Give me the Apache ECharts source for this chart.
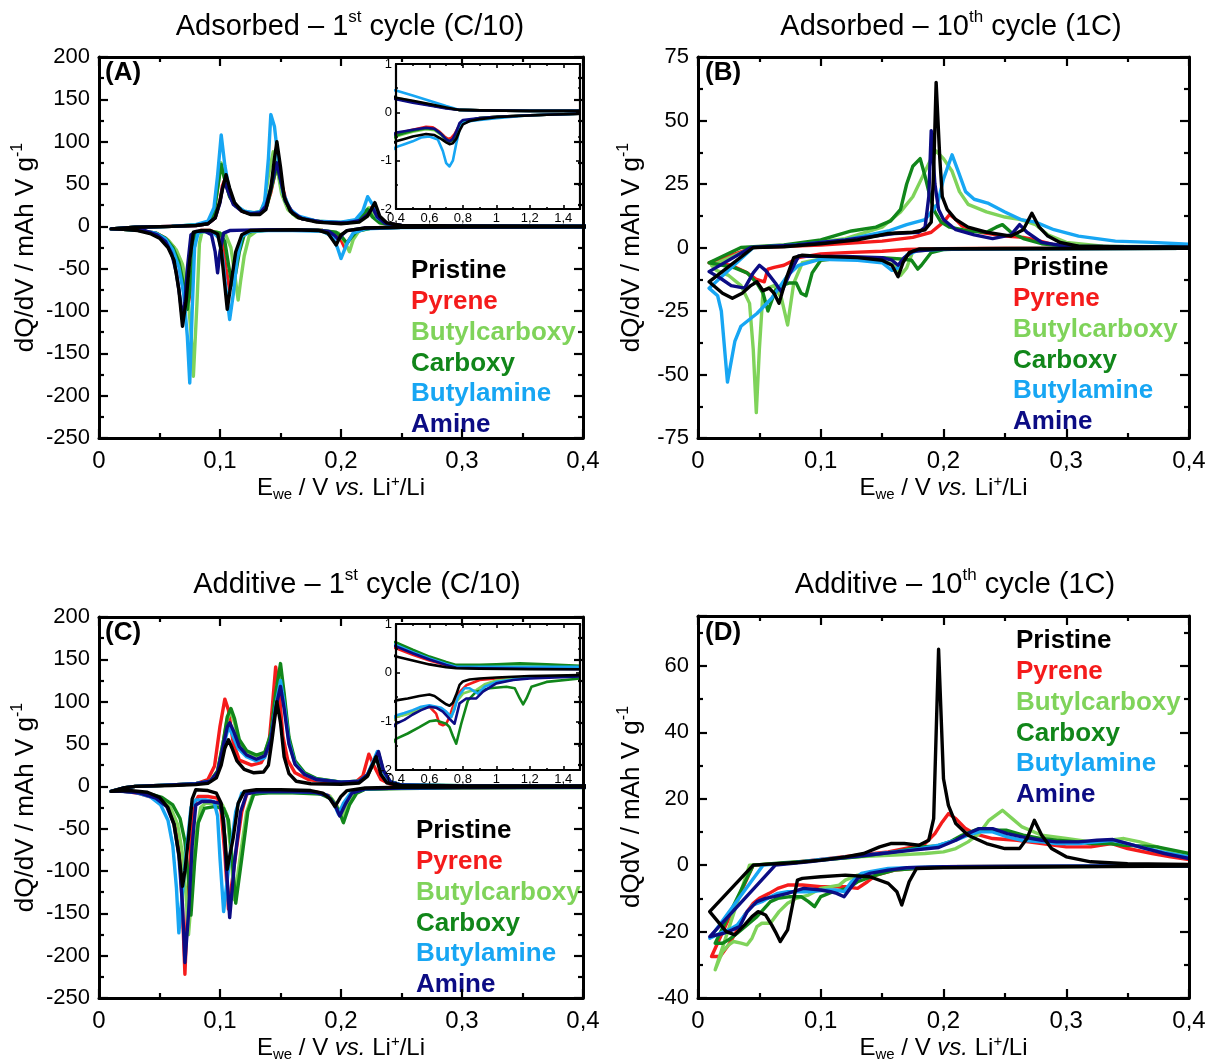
<!DOCTYPE html>
<html>
<head>
<meta charset="utf-8">
<title>dQ/dV curves</title>
<script src="https://cdn.jsdelivr.net/npm/echarts@6/dist/echarts.min.js"></script>
<style>
  html, body { margin: 0; padding: 0; background: #fff; }
  #chart { width: 1207px; height: 1059px; }
</style>
</head>
<body>
<div id="chart"></div>
<script>
// ---- sample names and colours ----
const seriesNames = ['Pristine', 'Pyrene', 'Butylcarboxy', 'Carboxy', 'Butylamine', 'Amine'];
const seriesColors = ['#000000', '#f51b1b', '#7fd35a', '#11861a', '#17a6f3', '#0c0c84'];

// ---- axis tick settings ----
const mainXTicks = { min: 0, max: 0.4, interval: 0.1 };
const insetXTicks = { min: 0.4, max: 1.5, interval: 0.2 };
const insetYTicks = { min: -2, max: 1, interval: 1 };
const yTicksA = { min: -250, max: 200, interval: 50 };
const yTicksB = { min: -75, max: 75, interval: 25 };
const yTicksC = { min: -250, max: 200, interval: 50 };
const yTicksD = { min: -40, max: 75, interval: 20 };

// ---- (A) adsorbed, 1st cycle: [E (V), dQ/dV], discharge from 1.5 V down, then charge back up ----
const adsFirstPristine = [[1.5,-0.03],[1.3,-0.05],[1.1,-0.08],[1.0,-0.1],[0.9,-0.14],[0.84,-0.18],[0.8,-0.25],[0.78,-0.38],[0.76,-0.55],[0.74,-0.64],[0.72,-0.66],[0.7,-0.62],[0.67,-0.55],[0.63,-0.47],[0.58,-0.45],[0.5,-0.5],[0.45,-0.55],[0.4,-0.6],[0.3,-0.8],[0.25,-1],[0.22,-2],[0.205,-5],[0.2,-10],[0.196,-22],[0.193,-16],[0.189,-8],[0.182,-5],[0.16,-4],[0.14,-4.5],[0.125,-5],[0.118,-10],[0.113,-30],[0.109,-68],[0.106,-98],[0.104,-70],[0.101,-28],[0.098,-9],[0.092,-5],[0.084,-5],[0.078,-7],[0.075,-40],[0.072,-88],[0.069,-118],[0.066,-75],[0.062,-40],[0.057,-25],[0.05,-14],[0.043,-9],[0.032,-5],[0.02,-3.5],[0.01,-3],
  [0.03,-1],[0.06,0],[0.08,1],[0.09,3],[0.096,10],[0.1,30],[0.103,50],[0.105,61],[0.108,45],[0.112,28],[0.118,18],[0.125,14],[0.133,14],[0.138,20],[0.142,45],[0.145,80],[0.147,100],[0.15,70],[0.153,35],[0.158,18],[0.165,10],[0.18,5],[0.2,3],[0.215,5],[0.222,12],[0.228,28],[0.232,12],[0.238,4],[0.25,1],[0.3,0.5],[0.4,0.3],[0.5,0.24],[0.6,0.17],[0.7,0.1],[0.78,0.05],[0.9,0.04],[1.2,0.03],[1.5,0.03]];
const adsFirstPyrene = [[1.5,-0.03],[1.2,-0.06],[1.0,-0.09],[0.9,-0.12],[0.8,-0.2],[0.77,-0.32],[0.75,-0.45],[0.73,-0.53],[0.71,-0.55],[0.69,-0.5],[0.66,-0.4],[0.62,-0.31],[0.58,-0.3],[0.5,-0.36],[0.45,-0.4],[0.4,-0.45],[0.3,-0.7],[0.25,-1],[0.22,-2],[0.212,-6],[0.207,-15],[0.203,-25],[0.2,-16],[0.195,-8],[0.185,-5],[0.16,-4],[0.14,-4.5],[0.125,-5.5],[0.12,-9],[0.116,-25],[0.112,-55],[0.108,-75],[0.105,-50],[0.102,-20],[0.098,-8],[0.092,-5],[0.084,-5],[0.08,-8],[0.078,-35],[0.076,-70],[0.074,-90],[0.071,-65],[0.067,-40],[0.062,-25],[0.055,-14],[0.047,-8],[0.035,-5],[0.02,-3.5],[0.01,-3],
  [0.03,-1],[0.06,0],[0.08,1],[0.09,3],[0.096,10],[0.1,30],[0.102,48],[0.104,55],[0.107,42],[0.111,27],[0.118,18],[0.125,15],[0.133,16],[0.138,22],[0.142,40],[0.145,60],[0.148,70],[0.151,50],[0.155,28],[0.16,16],[0.168,9],[0.185,5],[0.205,4],[0.215,7],[0.221,15],[0.225,22],[0.229,12],[0.235,4],[0.25,1],[0.3,0.4],[0.4,0.28],[0.5,0.22],[0.6,0.15],[0.7,0.09],[0.78,0.05],[0.9,0.04],[1.2,0.03],[1.5,0.03]];
const adsFirstButylcarboxy = [[1.5,-0.03],[1.2,-0.06],[1.0,-0.09],[0.9,-0.12],[0.8,-0.2],[0.78,-0.3],[0.76,-0.48],[0.74,-0.58],[0.72,-0.6],[0.7,-0.57],[0.67,-0.47],[0.63,-0.37],[0.58,-0.35],[0.5,-0.4],[0.45,-0.45],[0.4,-0.5],[0.3,-0.8],[0.25,-1],[0.225,-2],[0.215,-5],[0.21,-16],[0.207,-30],[0.203,-18],[0.198,-8],[0.185,-5],[0.16,-4],[0.14,-4.5],[0.13,-6],[0.124,-12],[0.12,-35],[0.117,-65],[0.115,-87],[0.112,-55],[0.109,-25],[0.105,-11],[0.098,-7],[0.09,-6],[0.085,-7],[0.083,-20],[0.081,-90],[0.078,-177],[0.076,-125],[0.073,-75],[0.069,-45],[0.064,-28],[0.057,-16],[0.048,-9],[0.035,-5],[0.02,-3.5],[0.01,-3],
  [0.03,-1],[0.06,0],[0.08,1.5],[0.09,4],[0.095,15],[0.098,45],[0.101,75],[0.104,55],[0.108,35],[0.113,24],[0.12,18],[0.127,16],[0.133,17],[0.137,28],[0.14,60],[0.144,88],[0.147,70],[0.151,38],[0.156,20],[0.163,11],[0.18,6],[0.2,4.5],[0.212,7],[0.218,15],[0.223,22],[0.227,12],[0.233,4],[0.245,1],[0.3,0.4],[0.4,0.3],[0.5,0.23],[0.6,0.16],[0.7,0.1],[0.78,0.05],[0.9,0.04],[1.2,0.03],[1.5,0.03]];
const adsFirstCarboxy = [[1.5,-0.03],[1.2,-0.06],[1.0,-0.09],[0.9,-0.12],[0.8,-0.2],[0.78,-0.3],[0.76,-0.48],[0.74,-0.58],[0.72,-0.6],[0.7,-0.56],[0.67,-0.45],[0.63,-0.35],[0.58,-0.33],[0.5,-0.38],[0.45,-0.43],[0.4,-0.48],[0.3,-0.75],[0.25,-1],[0.225,-2],[0.213,-6],[0.208,-14],[0.205,-20],[0.201,-13],[0.196,-7],[0.185,-5],[0.16,-4],[0.14,-4.5],[0.127,-5.5],[0.12,-10],[0.116,-30],[0.113,-55],[0.11,-69],[0.107,-45],[0.104,-18],[0.1,-8],[0.093,-6],[0.085,-6],[0.08,-9],[0.078,-35],[0.075,-75],[0.073,-98],[0.07,-70],[0.066,-42],[0.061,-25],[0.055,-14],[0.047,-8],[0.035,-5],[0.02,-3.5],[0.01,-3],
  [0.03,-1],[0.06,0],[0.08,1.5],[0.09,4],[0.095,15],[0.098,45],[0.101,73],[0.104,55],[0.108,35],[0.113,24],[0.12,17],[0.127,15],[0.134,16],[0.139,25],[0.143,48],[0.147,72],[0.15,55],[0.154,30],[0.16,15],[0.168,9],[0.185,5],[0.2,4],[0.212,7],[0.218,14],[0.222,20],[0.226,11],[0.232,4],[0.245,1],[0.3,0.4],[0.4,0.28],[0.5,0.22],[0.6,0.15],[0.7,0.09],[0.78,0.05],[0.9,0.04],[1.2,0.03],[1.5,0.03]];
const adsFirstButylamine = [[1.5,-0.03],[1.2,-0.06],[1.0,-0.12],[0.9,-0.16],[0.85,-0.18],[0.8,-0.22],[0.78,-0.35],[0.76,-0.65],[0.74,-1.0],[0.72,-1.12],[0.7,-1.05],[0.68,-0.8],[0.65,-0.56],[0.6,-0.5],[0.55,-0.52],[0.5,-0.6],[0.45,-0.66],[0.4,-0.72],[0.3,-1],[0.25,-1.5],[0.22,-3],[0.21,-8],[0.205,-20],[0.2,-38],[0.197,-25],[0.193,-12],[0.185,-6],[0.16,-5],[0.14,-5],[0.125,-6],[0.118,-12],[0.114,-40],[0.111,-80],[0.108,-110],[0.105,-75],[0.102,-35],[0.099,-14],[0.095,-8],[0.088,-6],[0.082,-7],[0.079,-25],[0.077,-100],[0.075,-185],[0.073,-130],[0.07,-80],[0.066,-48],[0.061,-28],[0.055,-15],[0.047,-8],[0.035,-5],[0.02,-3.5],[0.01,-3],
  [0.03,-1],[0.06,0],[0.08,2],[0.09,6],[0.095,22],[0.098,60],[0.101,108],[0.104,72],[0.108,40],[0.113,25],[0.12,18],[0.128,16],[0.134,18],[0.137,30],[0.14,80],[0.142,132],[0.145,118],[0.148,80],[0.152,40],[0.158,20],[0.165,12],[0.18,6],[0.2,5],[0.212,8],[0.218,18],[0.222,35],[0.226,26],[0.23,10],[0.238,3],[0.25,1],[0.3,0.5],[0.4,0.45],[0.5,0.35],[0.6,0.24],[0.7,0.13],[0.78,0.05],[0.9,0.04],[1.2,0.03],[1.5,0.03]];
const adsFirstAmine = [[1.5,-0.03],[1.2,-0.06],[1.0,-0.09],[0.9,-0.12],[0.8,-0.16],[0.78,-0.22],[0.76,-0.4],[0.74,-0.55],[0.72,-0.6],[0.7,-0.56],[0.67,-0.45],[0.63,-0.34],[0.58,-0.32],[0.5,-0.36],[0.45,-0.39],[0.4,-0.42],[0.3,-0.7],[0.25,-1],[0.22,-2],[0.205,-5],[0.201,-10],[0.198,-16],[0.195,-11],[0.19,-6],[0.18,-4.5],[0.16,-4],[0.14,-4],[0.12,-4.5],[0.108,-5],[0.103,-8],[0.1,-30],[0.098,-55],[0.096,-30],[0.093,-10],[0.088,-6],[0.08,-6],[0.076,-10],[0.073,-50],[0.071,-90],[0.069,-110],[0.067,-85],[0.064,-55],[0.06,-32],[0.055,-18],[0.048,-10],[0.038,-5],[0.025,-3.5],[0.01,-3],
  [0.03,-1],[0.06,0],[0.08,1],[0.09,3],[0.096,10],[0.1,28],[0.102,45],[0.104,52],[0.107,40],[0.111,26],[0.118,18],[0.125,15],[0.133,16],[0.138,24],[0.142,45],[0.145,65],[0.147,75],[0.15,55],[0.154,30],[0.16,16],[0.168,9],[0.185,5],[0.205,4],[0.216,7],[0.222,14],[0.226,22],[0.23,11],[0.236,4],[0.25,1],[0.3,0.4],[0.4,0.27],[0.5,0.2],[0.6,0.14],[0.7,0.08],[0.78,0.05],[0.9,0.04],[1.2,0.03],[1.5,0.03]];

// ---- (B) adsorbed, 10th cycle ----
const adsTenthPristine = [[0.4,-0.3],[0.3,-0.4],[0.22,-0.5],[0.18,-0.6],[0.172,-2],[0.167,-6],[0.163,-11.5],[0.158,-7],[0.15,-5],[0.13,-4],[0.1,-3.5],[0.085,-3],[0.078,-4],[0.072,-12],[0.066,-22],[0.062,-18],[0.058,-16],[0.053,-17],[0.048,-13.5],[0.043,-15],[0.036,-18],[0.028,-20],[0.02,-18],[0.009,-13.5],
  [0.045,0],[0.07,0.3],[0.1,1.5],[0.13,3],[0.155,5.5],[0.175,6],[0.185,7],[0.19,10],[0.192,30],[0.194,65],[0.197,35],[0.199,20],[0.203,15],[0.21,11],[0.22,8],[0.235,6],[0.255,4.5],[0.265,7],[0.272,13.5],[0.278,8],[0.285,4.5],[0.295,2],[0.31,0.5],[0.35,0.2],[0.4,0.1]];
const adsTenthPyrene = [[0.4,-0.2],[0.25,-0.3],[0.2,-0.5],[0.17,-0.8],[0.15,-1.5],[0.12,-2],[0.1,-2.5],[0.082,-4],[0.07,-7],[0.062,-7.8],[0.057,-8.5],[0.054,-13.5],[0.047,-12.4],[0.04,-10],[0.027,-7],[0.009,-6],
  [0.045,0],[0.1,1],[0.15,2.5],[0.175,4],[0.19,6],[0.2,10],[0.205,13],[0.21,11],[0.215,8.5],[0.23,6],[0.25,4.5],[0.265,4],[0.275,3],[0.29,1],[0.31,0.3],[0.4,0.1]];
const adsTenthButylcarboxy = [[0.4,-0.3],[0.2,-0.5],[0.175,-1.5],[0.17,-8],[0.165,-11],[0.16,-7],[0.15,-5],[0.12,-4],[0.1,-4.5],[0.085,-6],[0.078,-14],[0.073,-30.5],[0.068,-20],[0.062,-15],[0.057,-16],[0.053,-17],[0.05,-40],[0.0475,-65],[0.045,-40],[0.042,-22],[0.035,-15],[0.025,-11],[0.015,-9],[0.011,-7],
  [0.045,0],[0.08,1],[0.12,3.5],[0.15,8],[0.165,14],[0.175,20],[0.183,28],[0.19,35],[0.194,38],[0.2,35],[0.207,30],[0.213,22],[0.22,17],[0.235,14],[0.25,12],[0.263,11],[0.275,9],[0.285,5],[0.3,2],[0.33,0.5],[0.4,0.2]];
const adsTenthCarboxy = [[0.4,-0.3],[0.22,-0.5],[0.2,-0.8],[0.19,-2],[0.182,-7],[0.179,-8.5],[0.174,-5],[0.165,-4.5],[0.15,-4],[0.12,-4],[0.1,-5],[0.093,-10],[0.088,-19],[0.084,-18],[0.08,-14],[0.074,-14],[0.068,-15],[0.063,-17],[0.057,-25],[0.053,-18],[0.048,-14],[0.04,-10],[0.03,-8],[0.02,-7],[0.009,-6],
  [0.035,0],[0.07,1],[0.1,3],[0.125,6.5],[0.145,8],[0.157,10.5],[0.165,15],[0.17,25],[0.175,32],[0.181,35],[0.185,28],[0.189,20],[0.193,14],[0.198,10],[0.205,8],[0.22,6.5],[0.235,6],[0.243,8],[0.248,9],[0.255,6],[0.265,3.5],[0.28,1.5],[0.3,0.5],[0.4,0.1]];
const adsTenthButylamine = [[0.4,-0.3],[0.22,-0.5],[0.18,-1],[0.17,-3],[0.163,-8],[0.158,-9],[0.15,-6],[0.13,-5],[0.1,-4.6],[0.082,-7],[0.073,-11],[0.06,-20],[0.048,-26],[0.035,-31],[0.03,-37],[0.024,-53],[0.019,-25],[0.016,-19],[0.009,-16],
  [0.045,0],[0.08,1],[0.12,3],[0.155,6.5],[0.17,9],[0.185,11],[0.195,17],[0.2,27],[0.207,36.5],[0.212,30],[0.218,22],[0.225,19],[0.236,17.5],[0.25,14],[0.263,11],[0.275,10],[0.29,7],[0.31,4.5],[0.34,2.5],[0.37,2],[0.4,1.3]];
const adsTenthAmine = [[0.4,-0.3],[0.2,-0.5],[0.175,-1.5],[0.168,-4],[0.163,-7],[0.158,-5],[0.15,-4],[0.12,-3.5],[0.09,-3.5],[0.082,-3.3],[0.075,-10],[0.068,-17.5],[0.063,-14],[0.055,-9],[0.05,-7],[0.045,-10],[0.038,-16],[0.027,-15],[0.018,-12],[0.009,-9.5],
  [0.043,0],[0.08,1],[0.12,3],[0.16,5.5],[0.18,6],[0.185,8],[0.188,20],[0.19,46],[0.193,25],[0.196,15],[0.2,11],[0.21,7],[0.225,5],[0.24,3.5],[0.255,5],[0.262,9],[0.268,6],[0.28,2],[0.3,0.5],[0.4,0.1]];

// ---- (C) additive, 1st cycle ----
const addFirstPristine = [[1.5,-0.05],[1.2,-0.07],[1.0,-0.1],[0.9,-0.12],[0.84,-0.14],[0.8,-0.18],[0.78,-0.25],[0.76,-0.45],[0.74,-0.62],[0.72,-0.68],[0.7,-0.65],[0.67,-0.58],[0.63,-0.48],[0.6,-0.45],[0.54,-0.48],[0.47,-0.53],[0.4,-0.57],[0.3,-0.8],[0.25,-1],[0.22,-2],[0.205,-5],[0.2,-12],[0.195,-24],[0.191,-15],[0.185,-8],[0.175,-5],[0.15,-4],[0.13,-4],[0.12,-6],[0.115,-20],[0.111,-60],[0.106,-98],[0.104,-60],[0.101,-20],[0.097,-8],[0.09,-5],[0.08,-4],[0.077,-15],[0.074,-60],[0.071,-100],[0.069,-118],[0.066,-80],[0.062,-45],[0.057,-25],[0.05,-13],[0.04,-7],[0.025,-5],[0.01,-6],
  [0.02,-2],[0.03,0],[0.06,1],[0.08,2],[0.09,3.5],[0.097,10],[0.101,25],[0.104,45],[0.107,55],[0.11,45],[0.114,30],[0.12,20],[0.128,16],[0.136,17],[0.14,25],[0.143,55],[0.147,100],[0.15,75],[0.153,35],[0.157,15],[0.163,6],[0.175,3],[0.2,2.5],[0.215,4],[0.222,12],[0.229,35],[0.233,14],[0.238,4],[0.25,1],[0.3,0.5],[0.4,0.33],[0.5,0.25],[0.6,0.17],[0.7,0.11],[0.76,0.09],[0.9,0.08],[1.2,0.07],[1.5,0.07]];
const addFirstPyrene = [[1.5,-0.07],[1.2,-0.1],[1.0,-0.12],[0.9,-0.15],[0.82,-0.26],[0.78,-0.4],[0.76,-0.5],[0.74,-0.7],[0.72,-0.91],[0.7,-1.05],[0.68,-1.08],[0.66,-1.05],[0.64,-0.84],[0.6,-0.7],[0.55,-0.73],[0.5,-0.8],[0.45,-0.86],[0.4,-0.91],[0.3,-1.3],[0.25,-2],[0.22,-3],[0.21,-8],[0.205,-20],[0.2,-35],[0.196,-22],[0.19,-11],[0.18,-7],[0.15,-6],[0.13,-6.5],[0.122,-9],[0.118,-30],[0.113,-80],[0.107,-145],[0.104,-80],[0.101,-30],[0.098,-14],[0.09,-12],[0.082,-12],[0.079,-20],[0.076,-67],[0.073,-150],[0.071,-222],[0.069,-146],[0.067,-87],[0.064,-47],[0.057,-24],[0.046,-14],[0.032,-8],[0.02,-6],[0.01,-6],
  [0.02,-2],[0.03,0],[0.06,1.5],[0.08,3],[0.09,8],[0.0955,24],[0.1,71],[0.104,103],[0.107,90],[0.111,51],[0.116,31],[0.126,25],[0.134,28],[0.14,43],[0.143,90],[0.146,141],[0.149,110],[0.152,59],[0.156,31],[0.162,16],[0.173,8],[0.184,6],[0.2,4.5],[0.212,5],[0.218,12],[0.223,38],[0.227,25],[0.233,8],[0.24,3],[0.25,1],[0.3,0.6],[0.4,0.5],[0.5,0.37],[0.6,0.25],[0.7,0.15],[0.76,0.12],[0.9,0.11],[1.2,0.1],[1.5,0.09]];
const addFirstButylcarboxy = [[1.5,-0.06],[1.2,-0.09],[1.0,-0.16],[0.93,-0.24],[0.88,-0.36],[0.84,-0.38],[0.8,-0.43],[0.78,-0.52],[0.76,-0.6],[0.74,-0.82],[0.73,-0.91],[0.71,-0.85],[0.68,-0.76],[0.64,-0.72],[0.6,-0.7],[0.55,-0.75],[0.5,-0.82],[0.45,-0.87],[0.4,-0.91],[0.3,-1.3],[0.25,-2],[0.22,-3],[0.212,-8],[0.206,-20],[0.201,-37],[0.197,-24],[0.191,-12],[0.18,-8],[0.15,-7],[0.135,-7.5],[0.127,-10],[0.122,-30],[0.117,-80],[0.112,-134],[0.109,-80],[0.106,-35],[0.102,-22],[0.095,-20],[0.088,-20],[0.084,-25],[0.08,-60],[0.077,-120],[0.074,-175],[0.072,-130],[0.069,-80],[0.065,-45],[0.059,-25],[0.05,-14],[0.038,-8],[0.022,-6],[0.01,-6],
  [0.02,-2],[0.03,0],[0.06,1.5],[0.08,3],[0.092,6],[0.098,18],[0.103,55],[0.106,80],[0.109,88],[0.112,75],[0.116,52],[0.122,40],[0.13,36],[0.137,40],[0.142,60],[0.146,105],[0.15,135],[0.153,105],[0.157,55],[0.162,28],[0.17,15],[0.18,9],[0.2,5],[0.215,6],[0.222,14],[0.23,40],[0.234,20],[0.24,6],[0.25,1.5],[0.3,0.7],[0.4,0.61],[0.5,0.45],[0.6,0.3],[0.7,0.2],[0.76,0.14],[0.9,0.13],[1.2,0.13],[1.5,0.12]];
const addFirstCarboxy = [[1.5,-0.12],[1.3,-0.19],[1.21,-0.29],[1.18,-0.53],[1.16,-0.65],[1.14,-0.53],[1.11,-0.32],[1.06,-0.29],[0.96,-0.32],[0.88,-0.39],[0.83,-0.57],[0.79,-1.05],[0.76,-1.46],[0.74,-1.3],[0.72,-1.12],[0.7,-1.05],[0.64,-0.98],[0.6,-1.0],[0.54,-1.12],[0.47,-1.25],[0.4,-1.36],[0.3,-1.8],[0.25,-2.5],[0.22,-3.5],[0.213,-8],[0.207,-22],[0.202,-43],[0.198,-28],[0.192,-15],[0.183,-9],[0.16,-7.5],[0.14,-7.5],[0.128,-9],[0.123,-30],[0.118,-85],[0.113,-138],[0.11,-85],[0.107,-40],[0.103,-26],[0.095,-24],[0.087,-26],[0.082,-43],[0.079,-90],[0.076,-152],[0.074,-110],[0.071,-65],[0.067,-38],[0.061,-22],[0.052,-13],[0.04,-8],[0.025,-6],[0.01,-6],
  [0.02,-2],[0.03,0],[0.06,1.5],[0.08,3],[0.092,6],[0.098,18],[0.103,55],[0.106,82],[0.109,92],[0.112,80],[0.116,55],[0.122,42],[0.13,37],[0.137,40],[0.142,62],[0.146,110],[0.15,145],[0.153,110],[0.157,58],[0.162,30],[0.17,16],[0.18,9],[0.2,5],[0.215,6],[0.222,13],[0.231,39],[0.235,18],[0.241,5],[0.25,1.5],[0.3,0.7],[0.4,0.62],[0.5,0.47],[0.6,0.33],[0.7,0.22],[0.76,0.16],[0.9,0.16],[1.0,0.17],[1.14,0.19],[1.3,0.17],[1.5,0.14]];
const addFirstButylamine = [[1.5,-0.06],[1.2,-0.1],[1.0,-0.19],[0.93,-0.29],[0.89,-0.43],[0.87,-0.39],[0.84,-0.32],[0.81,-0.32],[0.77,-0.5],[0.75,-0.75],[0.73,-0.91],[0.7,-0.8],[0.67,-0.72],[0.6,-0.67],[0.55,-0.7],[0.5,-0.77],[0.45,-0.83],[0.4,-0.88],[0.3,-1.2],[0.25,-2],[0.22,-3],[0.208,-8],[0.202,-20],[0.198,-33],[0.194,-20],[0.188,-10],[0.178,-7],[0.15,-6],[0.13,-6.5],[0.118,-8],[0.113,-30],[0.108,-85],[0.103,-148],[0.1,-85],[0.098,-35],[0.095,-18],[0.088,-16],[0.08,-16],[0.076,-25],[0.072,-80],[0.068,-140],[0.066,-173],[0.064,-120],[0.061,-70],[0.057,-40],[0.051,-22],[0.042,-12],[0.03,-7],[0.018,-6],[0.01,-6],
  [0.02,-2],[0.03,0],[0.06,1.5],[0.08,3],[0.092,6],[0.098,16],[0.103,48],[0.107,70],[0.11,62],[0.115,45],[0.122,35],[0.13,30],[0.137,34],[0.142,55],[0.146,95],[0.15,125],[0.153,98],[0.157,52],[0.162,27],[0.17,14],[0.18,8],[0.2,5],[0.215,6],[0.222,14],[0.23,41],[0.234,20],[0.24,6],[0.25,1.5],[0.3,0.65],[0.4,0.57],[0.5,0.42],[0.6,0.29],[0.7,0.18],[0.76,0.12],[0.9,0.12],[1.2,0.12],[1.5,0.12]];
const addFirstAmine = [[1.5,-0.08],[1.2,-0.12],[1.1,-0.15],[1.0,-0.22],[0.92,-0.39],[0.88,-0.53],[0.82,-0.53],[0.78,-0.63],[0.75,-1.05],[0.72,-0.95],[0.68,-0.8],[0.64,-0.72],[0.6,-0.7],[0.55,-0.77],[0.5,-0.86],[0.45,-0.97],[0.4,-1.05],[0.3,-1.4],[0.25,-2],[0.22,-3],[0.209,-8],[0.204,-20],[0.199,-35],[0.195,-22],[0.189,-11],[0.178,-7],[0.15,-6],[0.13,-6.5],[0.122,-9],[0.117,-30],[0.112,-90],[0.108,-155],[0.105,-90],[0.103,-40],[0.1,-20],[0.093,-18],[0.085,-18],[0.08,-22],[0.077,-70],[0.074,-150],[0.071,-208],[0.069,-140],[0.066,-82],[0.062,-45],[0.056,-24],[0.047,-14],[0.034,-8],[0.02,-6],[0.01,-6],
  [0.02,-2],[0.03,0],[0.06,1.5],[0.08,3],[0.092,6],[0.098,17],[0.103,50],[0.106,70],[0.108,75],[0.111,66],[0.116,47],[0.122,37],[0.13,32],[0.137,36],[0.142,55],[0.146,92],[0.15,118],[0.153,92],[0.157,50],[0.162,26],[0.17,14],[0.18,8],[0.2,5],[0.215,6],[0.222,14],[0.231,41],[0.235,19],[0.241,5],[0.25,1.5],[0.3,0.6],[0.4,0.54],[0.5,0.4],[0.6,0.27],[0.7,0.16],[0.76,0.1],[0.9,0.09],[1.2,0.08],[1.5,0.07]];

// ---- (D) additive, 10th cycle ----
const addTenthPristine = [[0.4,-0.3],[0.3,-0.5],[0.2,-0.8],[0.178,-1],[0.172,-5],[0.166,-12],[0.162,-8],[0.155,-5.5],[0.14,-3.5],[0.12,-3],[0.1,-3.5],[0.085,-4],[0.081,-4.5],[0.077,-12],[0.073,-19.5],[0.067,-23],[0.063,-20],[0.06,-18],[0.055,-15],[0.049,-14],[0.044,-15.5],[0.038,-18],[0.03,-21],[0.023,-20],[0.0095,-14],
  [0.045,0],[0.08,0.8],[0.1,1.5],[0.12,2.5],[0.135,3.5],[0.148,5.5],[0.157,6.5],[0.168,6.5],[0.18,6],[0.188,7.5],[0.192,14],[0.196,65],[0.2,26],[0.204,18],[0.21,12.5],[0.22,9],[0.235,6.5],[0.25,5],[0.262,5],[0.268,8],[0.274,13.5],[0.28,9],[0.288,5],[0.3,2.5],[0.32,1],[0.35,0.4],[0.4,0.2]];
const addTenthPyrene = [[0.4,0],[0.2,-0.5],[0.175,-1],[0.16,-1.5],[0.145,-3],[0.138,-5],[0.13,-7],[0.12,-6.5],[0.1,-6.5],[0.085,-6],[0.073,-6],[0.065,-7],[0.058,-8.5],[0.05,-10],[0.045,-11.5],[0.038,-15],[0.032,-19.5],[0.025,-24],[0.018,-27.5],[0.011,-27.5],
  [0.045,0],[0.07,0.5],[0.1,1.7],[0.13,3],[0.155,4],[0.175,5.5],[0.185,6.5],[0.193,9.5],[0.199,13],[0.204,15.5],[0.21,14],[0.218,11],[0.225,9.5],[0.24,8],[0.26,7.5],[0.28,6.5],[0.3,5.5],[0.32,5.5],[0.337,6.5],[0.35,5],[0.37,3.5],[0.385,2.5],[0.4,1.7]];
const addTenthButylcarboxy = [[0.4,-0.3],[0.2,-0.5],[0.17,-1],[0.15,-1.5],[0.13,-3],[0.12,-4.5],[0.115,-6],[0.1,-7],[0.09,-9],[0.08,-10],[0.073,-11.5],[0.066,-14],[0.059,-17.5],[0.052,-17.5],[0.048,-18.5],[0.044,-22],[0.04,-24],[0.035,-23.5],[0.029,-23],[0.025,-24],[0.02,-26],[0.014,-31.5],
  [0.042,0],[0.07,0.5],[0.1,1.5],[0.13,2.5],[0.16,3],[0.185,3.5],[0.2,4],[0.21,5],[0.22,7],[0.229,9.5],[0.237,13.5],[0.248,16.5],[0.256,14],[0.264,11.5],[0.28,9],[0.3,8],[0.32,7],[0.335,7.5],[0.347,8],[0.36,7],[0.374,5.5],[0.39,3.5],[0.4,2.5]];
const addTenthCarboxy = [[0.4,-0.3],[0.2,-0.5],[0.177,-1],[0.16,-1.5],[0.145,-3],[0.13,-5],[0.122,-7],[0.11,-8],[0.1,-9.5],[0.095,-12.5],[0.09,-11],[0.084,-9.5],[0.075,-9.5],[0.065,-10],[0.059,-11],[0.053,-13.5],[0.048,-15.5],[0.04,-18],[0.032,-20.5],[0.025,-22.5],[0.02,-23.5],[0.014,-23.5],
  [0.045,0],[0.07,0.7],[0.1,1.5],[0.13,2.5],[0.16,4],[0.182,5.5],[0.195,5.8],[0.205,7],[0.215,9],[0.229,11],[0.24,10.5],[0.251,10.5],[0.265,9],[0.28,8],[0.292,7.5],[0.31,7],[0.319,6.5],[0.335,6.5],[0.347,6],[0.36,5.8],[0.374,5.5],[0.39,4.3],[0.4,3.5]];
const addTenthButylamine = [[0.4,-0.2],[0.2,-0.5],[0.17,-0.8],[0.155,-1],[0.14,-2],[0.133,-2.5],[0.125,-5],[0.119,-8],[0.112,-7.5],[0.105,-7.5],[0.09,-8],[0.073,-8],[0.065,-8.5],[0.059,-9.5],[0.052,-11],[0.045,-12],[0.038,-15],[0.032,-18],[0.025,-19.5],[0.021,-20],[0.0096,-22],
  [0.053,0],[0.08,0.8],[0.1,1.7],[0.13,2.8],[0.16,4],[0.182,5],[0.196,6],[0.21,7.5],[0.22,9],[0.229,10],[0.24,10],[0.252,8.5],[0.264,7.5],[0.28,7],[0.292,6.5],[0.31,6.5],[0.325,7],[0.338,7.5],[0.35,6.5],[0.365,5],[0.38,3.8],[0.4,2.5]];
const addTenthAmine = [[0.4,-0.2],[0.2,-0.5],[0.17,-0.8],[0.155,-1.5],[0.14,-2.5],[0.13,-4],[0.124,-7],[0.119,-9.5],[0.113,-8.5],[0.108,-8],[0.1,-7.5],[0.086,-7],[0.073,-8.5],[0.062,-9.5],[0.055,-10],[0.048,-11],[0.04,-14],[0.034,-18.5],[0.028,-19.5],[0.021,-20.5],[0.0096,-21.5],
  [0.063,0],[0.09,1],[0.12,2.3],[0.15,3.5],[0.175,4.5],[0.196,5.3],[0.21,7.5],[0.22,9.5],[0.229,11],[0.24,11],[0.252,9.5],[0.264,8.5],[0.28,7.5],[0.292,7],[0.31,7],[0.325,7.5],[0.338,7.7],[0.35,6.5],[0.365,5],[0.38,3.5],[0.4,2]];

// ---- text ----
const panelTitles = ['Adsorbed – 1{sup|st} cycle (C/10)', 'Adsorbed – 10{sup|th} cycle (1C)', 'Additive – 1{sup|st} cycle (C/10)', 'Additive – 10{sup|th} cycle (1C)'];
const panelLetters = ['(A)', '(B)', '(C)', '(D)'];
const xTitle = 'E{sub|we} / V {it|vs.} Li{sup|+}/Li';
const yTitle = 'dQ/dV / mAh V g{sup|-1}';
const yTitleD = 'dQdV / mAh V g{sup|-1}';

// ---- layout ----
const FONT = "'Liberation Sans', Arial, Helvetica, sans-serif";
const gridRects = [
  { left: 99, top: 57, width: 484, height: 381 },   // A
  { left: 396, top: 64, width: 184, height: 145 },  // A inset
  { left: 698, top: 57, width: 491, height: 381 },  // B
  { left: 99, top: 617, width: 484, height: 381 },  // C
  { left: 396, top: 624, width: 184, height: 146 }, // C inset
  { left: 698, top: 616, width: 491, height: 382 }  // D
];

const decimalComma = v => String(+(+v).toFixed(3)).replace('.', ',');

function nameRich(size) {
  return {
    sub: { fontSize: Math.round(size * 0.62), fontFamily: FONT, color: '#000', verticalAlign: 'bottom', lineHeight: Math.round(size * 0.95) },
    sup: { fontSize: Math.round(size * 0.62), fontFamily: FONT, color: '#000', verticalAlign: 'top', lineHeight: Math.round(size * 0.95) },
    it: { fontSize: size, fontFamily: FONT, color: '#000', fontStyle: 'italic' }
  };
}

const xAxes = [];
const yAxes = [];

function addFrame(gridIndex, xr, yr, s) {
  const line = { show: true, onZero: false, lineStyle: { color: '#000', width: s.lineW } };
  const tick = { show: true, inside: true, length: s.tickLen, lineStyle: { color: '#000', width: s.tickW } };
  const minor = { show: true, splitNumber: 2, length: s.minorLen, lineStyle: { color: '#000', width: s.tickW } };
  const base = { type: 'value', gridIndex, splitLine: { show: false }, axisLine: line, axisTick: tick, minorTick: minor, z: s.z };
  xAxes.push(Object.assign({}, base, {
    position: 'bottom', min: xr.min, max: xr.max, interval: xr.interval,
    axisLabel: { show: true, color: '#000', fontFamily: FONT, fontSize: s.xFont, margin: s.xMargin, formatter: decimalComma, showMaxLabel: s.xShowMax },
    name: s.xName || '', nameLocation: 'middle', nameGap: s.xNameGap,
    nameTextStyle: { fontFamily: FONT, fontSize: 24, color: '#000', lineHeight: 28, rich: nameRich(24) }
  }));
  xAxes.push(Object.assign({}, base, {
    position: 'top', min: xr.min, max: xr.max, interval: xr.interval, axisLabel: { show: false }
  }));
  yAxes.push(Object.assign({}, base, {
    position: 'left', min: yr.min, max: yr.max, interval: yr.interval,
    axisLabel: { show: true, color: '#000', fontFamily: FONT, fontSize: s.yFont, margin: s.yMargin, formatter: decimalComma, showMaxLabel: s.yShowMax },
    name: s.yName || '', nameLocation: 'middle', nameRotate: 90, nameGap: s.yNameGap,
    nameTextStyle: { fontFamily: FONT, fontSize: 26, color: '#000', lineHeight: 32, rich: nameRich(26) }
  }));
  yAxes.push(Object.assign({}, base, {
    position: 'right', min: yr.min, max: yr.max, interval: yr.interval, axisLabel: { show: false }
  }));
}

const mainStyle = { lineW: 3, tickW: 2.2, tickLen: 9, minorLen: 5, xFont: 24, yFont: 22, xMargin: 11, yMargin: 9, z: 5,
  xName: xTitle, xNameGap: 29, yNameGap: 50, xShowMax: true, yShowMax: true };
const insetStyle = { lineW: 2.2, tickW: 1.6, tickLen: 4, minorLen: 2, xFont: 13, yFont: 13, xMargin: 3, yMargin: 4, z: 5,
  xName: '', xNameGap: 0, yNameGap: 0, xShowMax: false, yShowMax: true };

addFrame(0, mainXTicks, yTicksA, Object.assign({}, mainStyle, { yName: yTitle }));
addFrame(1, insetXTicks, insetYTicks, insetStyle);
addFrame(2, mainXTicks, yTicksB, Object.assign({}, mainStyle, { yName: yTitle }));
addFrame(3, mainXTicks, yTicksC, Object.assign({}, mainStyle, { yName: yTitle }));
addFrame(4, insetXTicks, insetYTicks, insetStyle);
addFrame(5, mainXTicks, yTicksD, Object.assign({}, mainStyle, { yName: yTitleD, yShowMax: false }));

// curves per panel, in legend order
const panels = [
  { grid: 0, inset: 1, curves: [adsFirstPristine, adsFirstPyrene, adsFirstButylcarboxy, adsFirstCarboxy, adsFirstButylamine, adsFirstAmine] },
  { grid: 2, curves: [adsTenthPristine, adsTenthPyrene, adsTenthButylcarboxy, adsTenthCarboxy, adsTenthButylamine, adsTenthAmine] },
  { grid: 3, inset: 4, curves: [addFirstPristine, addFirstPyrene, addFirstButylcarboxy, addFirstCarboxy, addFirstButylamine, addFirstAmine] },
  { grid: 5, curves: [addTenthPristine, addTenthPyrene, addTenthButylcarboxy, addTenthCarboxy, addTenthButylamine, addTenthAmine] }
];
// Pristine is drawn last so it sits on top
const drawOrder = [1, 2, 3, 4, 5, 0];

const series = [];
panels.forEach(p => {
  const targets = [{ g: p.grid, w: 3.4 }];
  if (p.inset !== undefined) targets.push({ g: p.inset, w: 2.6 });
  targets.forEach(t => {
    drawOrder.forEach(i => {
      series.push({
        type: 'line', name: seriesNames[i], data: p.curves[i],
        xAxisIndex: 2 * t.g, yAxisIndex: 2 * t.g,
        showSymbol: false, symbol: 'none', clip: true, silent: true,
        lineStyle: { color: seriesColors[i], width: t.w, join: 'round' },
        itemStyle: { color: seriesColors[i] },
        z: 3
      });
    });
  });
});

const titleSpots = [[350, 9], [951, 9], [357, 567], [955, 567]];
const letterSpots = [[105, 60], [705, 60], [105, 620], [705, 620]];
const titles = [];
panelTitles.forEach((t, k) => {
  titles.push({
    text: t, left: titleSpots[k][0], top: titleSpots[k][1], textAlign: 'center', padding: 0,
    textStyle: { fontFamily: FONT, fontSize: 29, fontWeight: 'normal', color: '#000', lineHeight: 36,
      rich: { sup: { fontFamily: FONT, fontSize: 17, color: '#000', verticalAlign: 'top', lineHeight: 28 } } }
  });
});
panelLetters.forEach((t, k) => {
  titles.push({
    text: t, left: letterSpots[k][0], top: letterSpots[k][1], padding: 0,
    textStyle: { fontFamily: FONT, fontSize: 26, fontWeight: 'bold', color: '#000' }
  });
});

const legendSpots = [[405, 258], [1007, 255], [410, 818], [1010, 628]];
const legends = legendSpots.map(([l, t]) => ({
  orient: 'vertical', left: l, top: t, padding: 0, icon: 'none', itemWidth: 1, itemHeight: 26, itemGap: 4.8,
  selectedMode: false,
  textStyle: { fontFamily: FONT, fontSize: 26, fontWeight: 'bold', lineHeight: 26 },
  data: seriesNames.map((n, i) => ({ name: n, textStyle: { color: seriesColors[i] } }))
}));

const chart = echarts.init(document.getElementById('chart'), null, { renderer: 'canvas' });
chart.setOption({
  backgroundColor: '#ffffff',
  animation: false,
  title: titles,
  legend: legends,
  grid: gridRects.map((r, k) => Object.assign({}, r, {
    show: k === 1 || k === 4, backgroundColor: '#ffffff', borderWidth: 0,
    containLabel: false, outerBoundsMode: 'none'
  })),
  xAxis: xAxes,
  yAxis: yAxes,
  series: series
});
</script>
</body>
</html>
